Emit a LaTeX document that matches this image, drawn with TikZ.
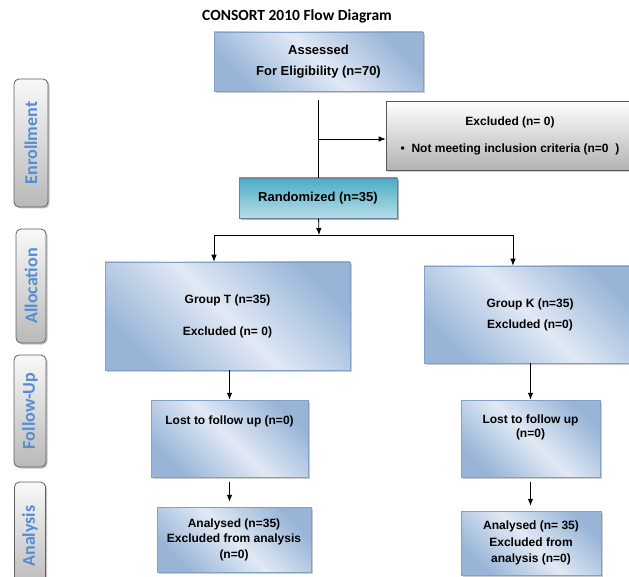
\documentclass[tikz,border=0pt]{standalone}
\usepackage{fontspec}
\usepackage{graphicx}
\setmainfont{Liberation Sans}
\newfontfamily\calibri{Carlito}
\definecolor{boxdark}{RGB}{152,181,216}
\definecolor{boxlight}{RGB}{225,233,244}
\definecolor{boxline}{RGB}{130,160,200}
\definecolor{tealdark}{RGB}{75,172,198}
\definecolor{teallight}{RGB}{183,221,232}
\definecolor{phasetext}{RGB}{84,141,212}
\usetikzlibrary{positioning,shadows,calc,arrows.meta}
\tikzset{phase/.style = {draw=gray!75!black, rounded corners=5pt, top color=gray!5, bottom color=gray!55,
  text=phasetext, font=\calibri\fontsize{18}{18}\selectfont\bfseries, inner sep=0pt,
  drop shadow={shadow xshift=1.5pt, shadow yshift=-1.5pt, opacity=0.45}}}

\begin{document}
\begin{tikzpicture}[x=1pt,y=-1pt,
  line width=0.8pt, >={Latex[length=7pt,width=5.5pt]},
  bluebox/.style={draw=boxline, line width=0.5pt, top color=boxdark, bottom color=boxdark, middle color=boxlight,
    shading angle=-45, align=center, inner sep=0pt, font=\fontsize{12}{15.5}\selectfont\bfseries,
    drop shadow={shadow xshift=2pt, shadow yshift=-2pt, opacity=0.4}},
  greybox/.style={draw=gray!70!black, line width=0.6pt, top color=white, bottom color=gray!60, align=center,
    inner sep=0pt, font=\fontsize{12}{15}\selectfont\bfseries,
    drop shadow={shadow xshift=2pt, shadow yshift=-2pt, opacity=0.4}},
  randbox/.style={draw=boxline!80!black, line width=0.8pt, top color=tealdark, bottom color=teallight,
    inner sep=0pt, font=\fontsize{13}{16}\selectfont\bfseries,
    drop shadow={shadow xshift=2pt, shadow yshift=-2pt, opacity=0.6}}
  ]
  \useasboundingbox (0,0) rectangle (629,577);

  % title
  \node[font=\calibri\fontsize{15.5}{16}\selectfont\bfseries] (title) at (297,16) {CONSORT 2010 Flow Diagram};

  % the phases on the left
  \node[phase, minimum width=34pt, minimum height=128pt] (enrol) at (31,143) {\rotatebox{90}{Enrollment}};
  \node[phase, minimum width=30pt, minimum height=114pt] (alloc) at (31,286) {\rotatebox{90}{Allocation}};
  \node[phase, minimum width=32pt, minimum height=112pt] (follow) at (30,411) {\rotatebox{90}{Follow-Up}};
  \node[phase, minimum width=31pt, minimum height=108pt] (analys) at (30,536) {\rotatebox{90}{Analysis}};

  % enrollment
  \node[bluebox, font=\fontsize{13}{16}\selectfont\bfseries, minimum width=209pt, minimum height=59pt]
    (assess) at (318.5,61.5) {Assessed\\[5pt]For Eligibility (n=70)};
  \node[greybox, minimum width=248pt, minimum height=69pt] (excl) at (510,135.5)
    {Excluded (n= 0)\\[12pt]\textbullet\ \ Not meeting inclusion criteria (n=0\ \ )};
  \node[randbox, minimum width=158pt, minimum height=40pt] (rand) at (318,198) {Randomized (n=35)};

  % allocation
  \node[bluebox, minimum width=245pt, minimum height=108pt] (grpT) at (227.5,316)
    {Group T (n=35)\\[16.5pt]Excluded (n= 0)};
  \node[bluebox, minimum width=212pt, minimum height=97pt] (grpK) at (530,314.5)
    {Group K (n=35)\\[5.5pt]Excluded (n=0)};

  % follow up
  \node[bluebox, minimum width=157pt, text height=24pt, text depth=53pt] (lostT) at (229.5,438.5)
    {Lost to follow up (n=0)};
  \node[bluebox, minimum width=139pt, text height=37pt, text depth=40pt, font=\fontsize{12}{14}\selectfont\bfseries]
    (lostK) at (530.5,438.5) {Lost to follow up\\(n=0)};

  % analysis
  \node[bluebox, minimum width=154pt, minimum height=65pt] (anaT) at (234,539.5)
    {Analysed (n=35)\\Excluded from analysis\\(n=0)};
  \node[bluebox, minimum width=140pt, minimum height=64pt, font=\fontsize{12}{16.5}\selectfont\bfseries]
    (anaK) at (531,543) {Analysed (n= 35)\\Excluded from\\analysis (n=0)};

  % the connectors
  \coordinate (branch) at (319,139);
  \coordinate (split) at (319,235);
  \draw[shorten <=9pt] (assess.south) -- (assess.south |- rand.north);
  \draw[->] (branch) -- (branch -| excl.west);
  \draw[->] (rand) -- (split);
  \draw[->] (split) -| ([xshift=-13.5pt]grpT.north);
  \draw[->] (split) -| ([xshift=-17pt]grpK.north);
  \draw[->] (lostT.north |- grpT.south) -- (lostT.north);
  \draw[->] (lostK.north |- grpK.south) -- (lostK.north);
  \draw[->, shorten <=5pt, shorten >=5pt] (lostT.south) -- (lostT.south |- anaT.north);
  \draw[->, shorten <=5pt, shorten >=5pt] (lostK.south) -- (lostK.south |- anaK.north);
\end{tikzpicture}
\end{document}
